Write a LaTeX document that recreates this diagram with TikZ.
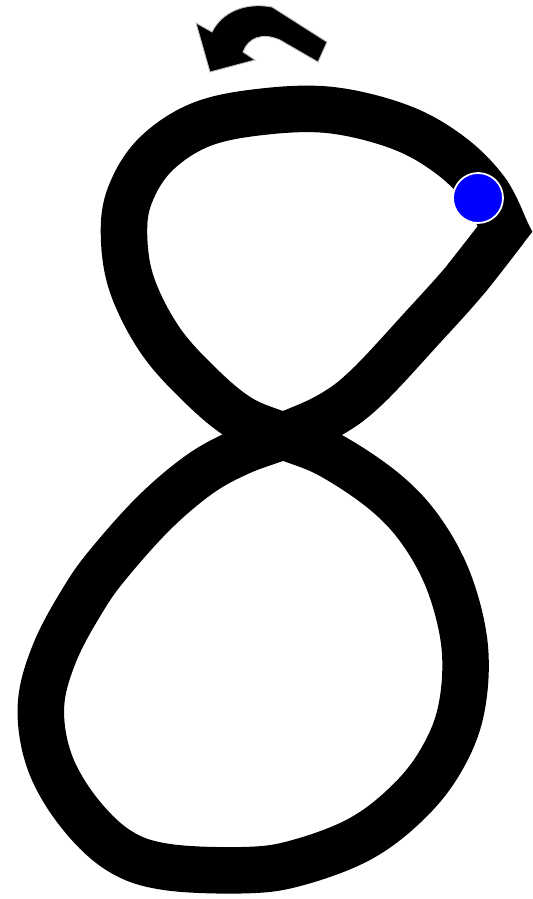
\documentclass[tikz,border=0pt]{standalone}
\usepackage{tikz}
\usetikzlibrary{calc}
\usepackage[dvipsnames]{xcolor}

\tikzset{
    stroke/.style={
        draw=black,
        line width=0.93cm,  % thick pen of the figure
        line cap=butt
    },
    startdot/.style={
        circle,
        fill=blue,
        draw=white,
        line width=1pt,
        minimum size=1.0cm,
        inner sep=0pt
    },
    turnarrow/.style={
        fill=black,
        draw=black!25,
        line width=0.5pt,
        line join=miter
    }
}

\begin{document}
\begin{tikzpicture}[x=0.02cm, y=-0.02cm]
\useasboundingbox (0,0) rectangle (532,899);

% the eight, in one stroke from the top right corner
\draw[stroke] plot[smooth, tension=0.6] coordinates {
    (505,229) (486,191) (450,155) (400,127) (330,110) (260,112)
    (200,125) (155,155) (130,195) (124,235) (132,285) (160,340)
    (200,385) (240,418) (283,436)   % crossing
    (330,455) (385,492) (422,532) (450,585) (465,650) (460,715)
    (437,767) (402,808) (358,840) (300,862) (250,870) (167,867)
    (118,850) (77,810) (49,760) (41,705) (55,652) (84,598)
    (110,562) (155,512) (200,474) (240,452) (283,436)   % crossing
    (330,415) (367,387) (423,327) (466,279) (505,229)
};
% sharp corner where the stroke starts and ends
\draw[stroke, line join=miter] (486,191) -- (505,229) -- (466,279);

% arrow showing which way to go
\filldraw[turnarrow] (327,42) -- (318,62) -- (280,40)
    .. controls (262,32) and (248,38) .. (243,52)
    -- (255,60) -- (210,72) -- (196,23) -- (212,32)
    .. controls (222,12) and (245,2) .. (272,7) -- cycle;

% where to begin
\node[startdot] (start) at (478,198) {};
\end{tikzpicture}
\end{document}
